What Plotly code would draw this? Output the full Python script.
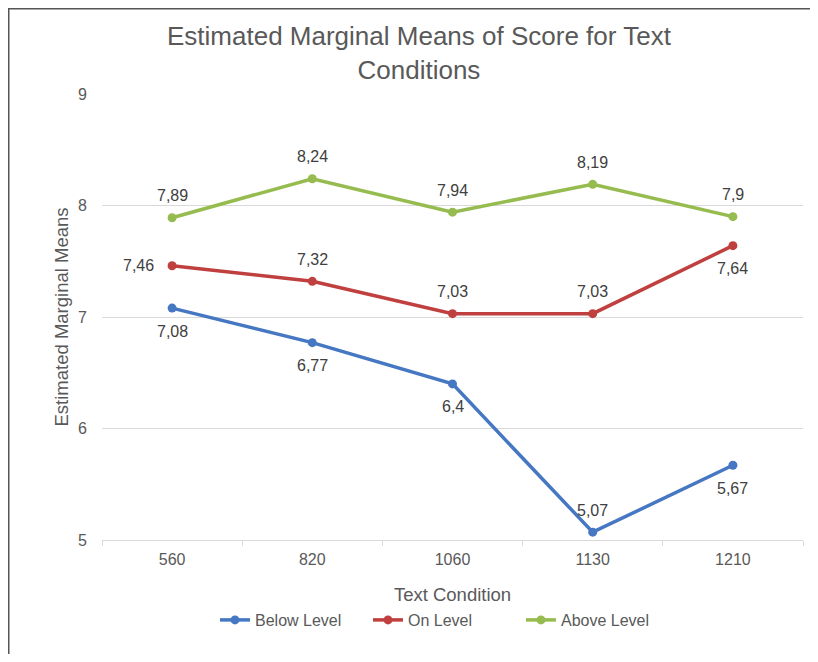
import plotly.graph_objects as go

categories = ["560", "820", "1060", "1130", "1210"]
below_level = [7.08, 6.77, 6.4, 5.07, 5.67]
on_level = [7.46, 7.32, 7.03, 7.03, 7.64]
above_level = [7.89, 8.24, 7.94, 8.19, 7.9]

# label placement for each point: "above", "below", "left"
below_pos = ["below", "below", "below", "above", "below"]
on_pos = ["left", "above", "above", "above", "below"]
above_pos = ["above"] * 5

def fmt(v):
    return f"{v:g}".replace(".", ",")

series = [
    ("Below Level", below_level, below_pos, "#4677C2"),
    ("On Level", on_level, on_pos, "#C0403F"),
    ("Above Level", above_level, above_pos, "#96BB4E"),
]

FONT = "Liberation Sans, Arial, Helvetica"
W, H = 802, 646
L, R, T, B = 94, 7, 86, 114
PW, PH = W - L - R, H - T - B

fig = go.Figure()
annotations = []
for name, vals, pos, color in series:
    fig.add_trace(go.Scatter(
        x=categories, y=vals, name=name, mode="lines+markers",
        line=dict(color=color, width=3.5),
        marker=dict(color=color, size=9),
        cliponaxis=False,
    ))
    for i, (v, p) in enumerate(zip(vals, pos)):
        xs, ys = 0, 0
        if p == "above":
            ys = 22
        elif p == "below":
            ys = -23
        else:
            xs = -34
        annotations.append(dict(
            x=i, y=v, xref="x", yref="y", text=fmt(v), showarrow=False,
            xshift=xs, yshift=ys, xanchor="center", yanchor="middle",
            font=dict(family=FONT, size=16, color="#404040"),
        ))

annotations.append(dict(
    text="Estimated Marginal Means of Score for Text<br>Conditions",
    xref="paper", yref="paper", x=(411 - L) / PW, y=(T + PH - 44.5) / PH,
    xanchor="center", yanchor="middle", showarrow=False,
    font=dict(family=FONT, size=26, color="#595959"),
))

fig.update_layout(
    width=W, height=H,
    margin=dict(l=L, r=R, t=T, b=B),
    paper_bgcolor="white", plot_bgcolor="white",
    font=dict(family=FONT, color="#595959", size=16),
    showlegend=True,
    legend=dict(orientation="h", x=(212 - 5 - L) / PW, xanchor="left",
                y=-(612 - (T + PH)) / PH, yanchor="middle",
                entrywidth=108, entrywidthmode="pixels",
                font=dict(family=FONT, size=16, color="#595959")),
    xaxis=dict(type="category", range=[-0.5, 4.5], showgrid=False,
               showline=True, linecolor="#D9D9D9", linewidth=1,
               ticks="outside", tickson="boundaries", ticklen=5, tickcolor="#D9D9D9",
               ticklabelstandoff=5,
               tickfont=dict(size=16, color="#595959"),
               title=dict(text="Text Condition", font=dict(size=18.5, color="#595959"), standoff=20)),
    yaxis=dict(range=[5, 9], dtick=1, showgrid=True, gridcolor="#D9D9D9", gridwidth=1,
               zeroline=False, showline=False, ticks="", ticklabelstandoff=14,
               tickfont=dict(size=16, color="#595959"),
               title=dict(text="Estimated Marginal Means", font=dict(size=18.5, color="#595959"), standoff=4)),
    annotations=annotations,
    shapes=[
        dict(type="line", xref="paper", yref="paper",
             x0=(0 - L) / PW, x1=(W - L) / PW, y0=(T + PH - 0.5) / PH, y1=(T + PH - 0.5) / PH,
             line=dict(color="#555555", width=2)),
        dict(type="line", xref="paper", yref="paper",
             x0=(0.5 - L) / PW, x1=(0.5 - L) / PW, y0=(T + PH) / PH, y1=(T + PH - H) / PH,
             line=dict(color="#555555", width=2)),
    ],
)

fig.write_html("out.html")
